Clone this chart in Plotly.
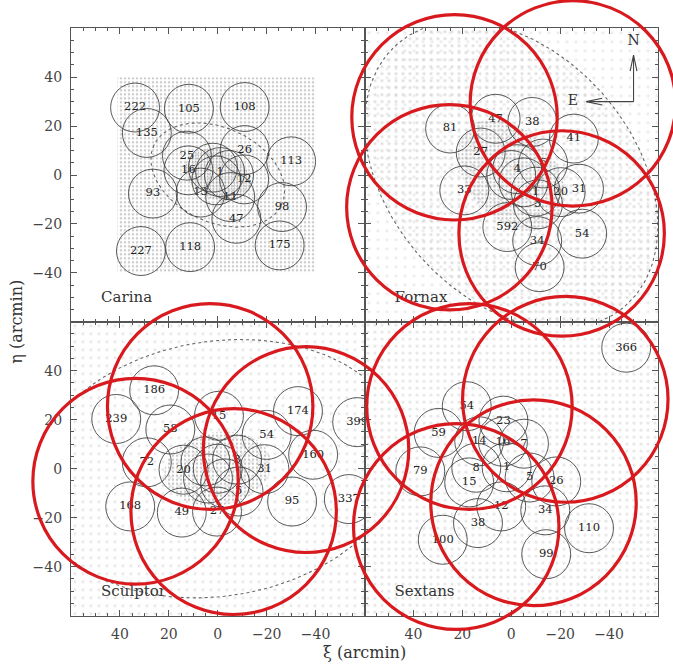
import numpy as np
import plotly.graph_objects as go

W, H = 673, 666
LIM = 60            # half-width of each panel, arcmin
FIELD_R = 10.0      # spectroscopic field radius, arcmin
WIDE_R = 42.0       # wide-field pointing radius, arcmin

# ---- Carina -------------------------------------------------------------
car_lab = ["222", "105", "108", "135", "25", "16", "1", "", "", "", "12", "26",
           "113", "93", "13", "11", "47", "98", "175", "227", "118"]
car_xi = [33.8, 11.8, -11.0, 29.0, 12.6, 12.0, -1.0, -4.6, 0.6, 2.0, -10.8, -11.0,
          -30.0, 26.5, 7.0, -5.1, -7.6, -26.3, -25.3, 31.4, 11.3]
car_eta = [27.6, 27.1, 27.8, 17.2, 7.9, 1.9, 1.2, 0.0, -2.2, 3.0, -1.8, 10.2,
           5.6, -7.6, -7.2, -9.0, -17.9, -13.1, -28.8, -31.1, -29.5]

# ---- Fornax -------------------------------------------------------------
for_lab = ["81", "47", "38", "41", "27", "4", "6", "33", "20", "31", "1", "", "",
           "5", "592", "34", "54", "70"]
for_xi = [25.0, 6.4, -8.6, -25.6, 12.5, -2.4, -13.0, 19.2, -20.2, -27.7, -10.0, 0.0, -5.0,
          -10.9, 1.6, -10.6, -29.0, -11.6]
for_eta = [19.0, 23.0, 21.7, 14.9, 9.2, 2.4, 4.7, -6.3, -7.0, -5.6, -6.8, 0.0, -3.0,
           -12.0, -21.3, -27.0, -24.0, -37.7]

# ---- Sculptor -----------------------------------------------------------
scl_lab = ["186", "239", "58", "15", "174", "399", "54", "72", "20", "3", "160", "31",
           "", "", "", "", "5", "27", "168", "49", "95", "337"]
scl_xi = [26.0, 41.5, 19.4, -0.5, -32.8, -57.0, -20.0, 29.0, 14.0, -7.9, -39.0, -19.1,
          0.0, 4.0, -3.0, 5.0, -8.5, 0.3, 35.8, 14.7, -30.4, -53.6]
scl_eta = [32.0, 20.3, 16.0, 21.6, 23.5, 19.0, 13.8, 2.6, -0.4, 3.7, 5.7, -0.2,
           0.0, -4.0, -6.0, 3.0, -9.3, -17.5, -15.4, -17.9, -13.4, -12.4]

# ---- Sextans ------------------------------------------------------------
sex_lab = ["366", "54", "23", "59", "14", "16", "7", "79", "8", "1", "5", "26",
           "15", "12", "34", "38", "110", "100", "99"]
sex_xi = [-47.0, 18.2, 3.2, 29.7, 13.1, 3.4, -5.2, 37.2, 14.3, 1.9, -7.5, -18.4,
          17.2, 4.1, -13.9, 13.6, -31.8, 28.0, -14.3]
sex_eta = [49.4, 25.5, 19.6, 14.6, 11.2, 11.0, 10.2, -1.1, 0.4, 0.6, -3.6, -5.2,
           -5.6, -15.4, -17.0, -22.2, -24.3, -29.0, -34.9]

# ---- wide-field pointings (centres, arcmin) ------------------------------
for_wide_xi = [23.2, -25.2, 25.3, -20.6]
for_wide_eta = [23.6, 29.3, -13.2, -23.9]
scl_wide_xi = [3.1, 33.6, -6.5, -36.1]
scl_wide_eta = [25.4, -5.1, -17.5, 7.8]
sex_wide_xi = [17.1, -22.1, 22.5, -9.1]
sex_wide_eta = [25.4, 28.3, -23.6, -13.9]

# ---- tidal ellipses: semi-major, semi-minor, position angle (deg) -------
car_tidal = (28.8, 19.3, 65.0)
for_tidal = (71.0, 50.0, 41.0)
scl_tidal = (76.5, 52.0, 99.0)
car_core = (14.0, 10.0, 65.0)
for_core = (26.0, 18.0, 41.0)
scl_core = (22.0, 15.0, 99.0)

# Carina imaging footprint (xi_max, xi_min, eta_min, eta_max)
car_footprint = (41.0, -40.0, -40.0, 40.0)

panel_names = ["Carina", "Fornax", "Sculptor", "Sextans"]
tick_vals = [-40, -20, 0, 20, 40]

# ---- panel layout (pixel edges of the 2x2 grid) --------------------------
PX = [71.0, 364.5, 658.0]
PY = [28.3, 321.7, 615.7]
xdom = [[PX[0] / W, PX[1] / W], [PX[1] / W, PX[2] / W]]
ydom = [[1 - PY[1] / H, 1 - PY[0] / H], [1 - PY[2] / H, 1 - PY[1] / H]]

SERIF = "DejaVu Serif"
AXC = "#555555"
RED = "#d81a1f"

fig = go.Figure()


def ellipse(a, b, pa_deg, n=240):
    t = np.linspace(0, 2 * np.pi, n)
    pa = np.radians(pa_deg)
    u, v = a * np.cos(t), b * np.sin(t)
    return u * np.sin(pa) + v * np.cos(pa), u * np.cos(pa) - v * np.sin(pa)


def stipple(xs, ys, k, fg, size, sol):
    fig.add_trace(go.Scatter(
        x=list(xs) + [xs[0]], y=list(ys) + [ys[0]], mode="lines", fill="toself",
        line=dict(width=0), fillcolor="rgba(0,0,0,0)",
        fillpattern=dict(shape=".", fgcolor=fg, bgcolor="rgba(0,0,0,0)",
                         size=size, solidity=sol),
        xaxis=f"x{k}", yaxis=f"y{k}", hoverinfo="skip", showlegend=False))


def dotted(tidal, k):
    ex, ey = ellipse(*tidal)
    fig.add_trace(go.Scatter(x=ex, y=ey, mode="lines",
                             line=dict(color="#666", width=1.1, dash="dot"),
                             xaxis=f"x{k}", yaxis=f"y{k}", hoverinfo="skip",
                             showlegend=False))


box = ([LIM, -LIM, -LIM, LIM], [-LIM, -LIM, LIM, LIM])

# star fields
x0, x1, y0, y1 = car_footprint
stipple([x0, x1, x1, x0], [y0, y0, y1, y1], 1, "#9a9a9a", 4, 0.3)
stipple(*ellipse(*car_core), 1, "#707070", 3, 0.3)
stipple(*box, 2, "#d8d8d8", 9, 0.1)
stipple(*ellipse(*for_tidal), 2, "#bcbcbc", 7, 0.14)
stipple(*ellipse(*for_core), 2, "#8a8a8a", 4, 0.28)
stipple(*box, 3, "#cfcfcf", 8, 0.12)
stipple(*ellipse(*scl_core), 3, "#929292", 4, 0.28)
stipple(*box, 4, "#c8c8c8", 7, 0.13)

dotted(car_tidal, 1)
dotted(for_tidal, 2)
dotted(scl_tidal, 3)

shapes = []
fields = [(car_lab, car_xi, car_eta), (for_lab, for_xi, for_eta),
          (scl_lab, scl_xi, scl_eta), (sex_lab, sex_xi, sex_eta)]
for k, (lab, xs, ys) in enumerate(fields, start=1):
    for cx, cy in zip(xs, ys):
        shapes.append(dict(type="circle", xref=f"x{k}", yref=f"y{k}",
                           x0=cx - FIELD_R, x1=cx + FIELD_R,
                           y0=cy - FIELD_R, y1=cy + FIELD_R,
                           line=dict(color="rgba(60,60,60,0.85)", width=1), layer="above"))
    fig.add_trace(go.Scatter(x=xs, y=ys, mode="text", text=lab,
                             textfont=dict(family=SERIF, size=11.5, color="#222"),
                             xaxis=f"x{k}", yaxis=f"y{k}", hoverinfo="skip",
                             showlegend=False))
    fig.add_trace(go.Scatter(x=[47.7], y=[-50.5], mode="text", text=[panel_names[k - 1]],
                             textposition="middle right",
                             textfont=dict(family=SERIF, size=15, color="#333"),
                             xaxis=f"x{k}", yaxis=f"y{k}", hoverinfo="skip",
                             showlegend=False))

# compass in the Fornax panel
c_xi, c_eta, c_len_n, c_len_e = -50.0, 30.0, 19.0, 19.3
head_l, head_w = 6.5, 1.4
fig.add_trace(go.Scatter(
    x=[c_xi, c_xi, None, c_xi + head_w, c_xi, c_xi - head_w, None,
       c_xi, c_xi + c_len_e, None, c_xi + c_len_e - head_l, c_xi + c_len_e,
       c_xi + c_len_e - head_l],
    y=[c_eta, c_eta + c_len_n, None, c_eta + c_len_n - head_l, c_eta + c_len_n,
       c_eta + c_len_n - head_l, None, c_eta, c_eta, None, c_eta + head_w, c_eta,
       c_eta - head_w],
    mode="lines", line=dict(color="#444", width=1.1), xaxis="x2", yaxis="y2",
    hoverinfo="skip", showlegend=False))
fig.add_trace(go.Scatter(x=[c_xi, c_xi + c_len_e + 5.5], y=[c_eta + c_len_n + 5.5, c_eta],
                         mode="text", text=["N", "E"],
                         textfont=dict(family=SERIF, size=14, color="#333"),
                         xaxis="x2", yaxis="y2", hoverinfo="skip", showlegend=False))

layout = dict(width=W, height=H, margin=dict(l=0, r=0, t=0, b=0, pad=0),
              paper_bgcolor="white", plot_bgcolor="rgba(0,0,0,0)", showlegend=False)

grid = [(0, 0), (1, 0), (0, 1), (1, 1)]  # (column, row) for panels 1..4
for k, (col, row) in enumerate(grid, start=1):
    common = dict(showline=True, linecolor=AXC, linewidth=1.3, mirror="ticks",
                  ticks="inside", ticklen=6, tickwidth=1.2, tickcolor=AXC,
                  tickvals=tick_vals, showgrid=False, zeroline=False,
                  tickfont=dict(family=SERIF, size=14, color="#444"),
                  ticklabelstandoff=5,
                  minor=dict(ticks="inside", ticklen=3, tickwidth=1, tickcolor=AXC,
                             dtick=5, tick0=0, showgrid=False))
    layout[f"xaxis{k}"] = dict(common, domain=xdom[col], range=[LIM, -LIM],
                               anchor=f"y{k}", showticklabels=(row == 1))
    layout[f"yaxis{k}"] = dict(common, domain=ydom[row], range=[-LIM, LIM],
                               anchor=f"x{k}", showticklabels=(col == 0))

# full-figure overlay axes sharing each panel's scale, so the wide-field
# pointings can spill over panel edges
wide = {2: (for_wide_xi, for_wide_eta), 3: (scl_wide_xi, scl_wide_eta),
        4: (sex_wide_xi, sex_wide_eta)}
for n, (k, (wx, wy)) in enumerate(wide.items(), start=5):
    col, row = grid[k - 1]
    d0, d1 = xdom[col]
    e0, e1 = ydom[row]
    sx = (-2 * LIM) / (d1 - d0)
    sy = (2 * LIM) / (e1 - e0)
    layout[f"xaxis{n}"] = dict(domain=[0, 1], range=[LIM - d0 * sx, LIM + (1 - d0) * sx],
                               visible=False, anchor=f"y{n}")
    layout[f"yaxis{n}"] = dict(domain=[0, 1], range=[-LIM - e0 * sy, -LIM + (1 - e0) * sy],
                               visible=False, anchor=f"x{n}")
    fig.add_trace(go.Scatter(x=[None], y=[None], xaxis=f"x{n}", yaxis=f"y{n}",
                             hoverinfo="skip", showlegend=False))
    for cx, cy in zip(wx, wy):
        shapes.append(dict(type="circle", xref=f"x{n}", yref=f"y{n}",
                           x0=cx - WIDE_R, x1=cx + WIDE_R, y0=cy - WIDE_R, y1=cy + WIDE_R,
                           line=dict(color=RED, width=3.2), layer="above"))

layout["shapes"] = shapes
layout["annotations"] = [
    dict(text="ξ (arcmin)", xref="paper", yref="paper", x=PX[1] / W, y=1 - 652 / H,
         xanchor="center", yanchor="middle", showarrow=False,
         font=dict(family=SERIF, size=16, color="#333")),
    dict(text="η (arcmin)", xref="paper", yref="paper", x=17 / W, y=1 - PY[1] / H,
         xanchor="center", yanchor="middle", textangle=-90, showarrow=False,
         font=dict(family=SERIF, size=16, color="#333")),
]
fig.update_layout(layout)
fig.write_html("out.html")
